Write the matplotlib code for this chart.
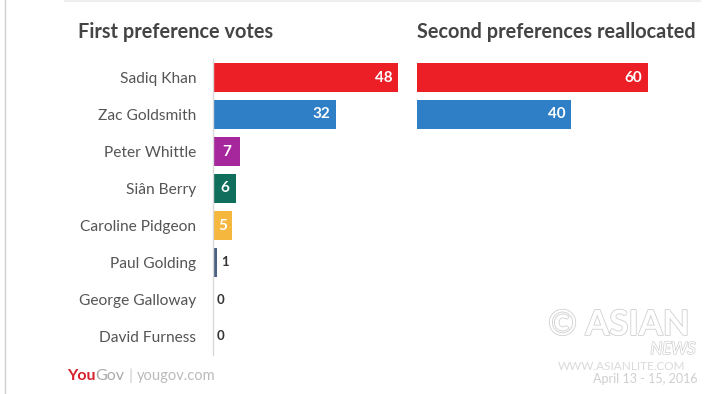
import matplotlib.pyplot as plt
import matplotlib.patheffects as pe
from matplotlib.lines import Line2D

plt.rcParams['font.family'] = ['Lato', 'DejaVu Sans']

# Data
candidates = ['Sadiq Khan', 'Zac Goldsmith', 'Peter Whittle', 'Siân Berry',
              'Caroline Pidgeon', 'Paul Golding', 'George Galloway', 'David Furness']
first_votes = [48, 32, 7, 6, 5, 1, 0, 0]
bar_colors = ['#ec1f27', '#2e7fc5', '#a6279b', '#0f6e5c', '#f5b73d', '#4a6184', '#4a6184', '#4a6184']
second_names = ['Sadiq Khan', 'Zac Goldsmith']
second_votes = [60, 40]

W, H = 723, 394
fig = plt.figure(figsize=(W / 100, H / 100), dpi=100)
fig.patch.set_facecolor('white')

px_per_unit = 3.854
row_top, row_bottom = 59, 355


def add_axes(x0, xmax):
    return fig.add_axes([x0 / W, 1 - row_bottom / H, xmax * px_per_unit / W,
                         (row_bottom - row_top) / H])


# First preferences panel
ax1 = add_axes(213, 50)
y = range(len(candidates))
ax1.barh(y, first_votes, height=0.78, color=bar_colors)
ax1.set_xlim(0, 50)
ax1.set_ylim(len(candidates) - 0.5, -0.5)
for s in ['top', 'right', 'bottom']:
    ax1.spines[s].set_visible(False)
ax1.spines['left'].set_color('#d9d9d9')
ax1.spines['left'].set_linewidth(1)
ax1.set_xticks([])
ax1.set_yticks(list(y))
ax1.set_yticklabels(candidates, fontsize=11.2, color='#555555')
ax1.tick_params(axis='y', length=0, pad=12)
for i, v in enumerate(first_votes):
    if v >= 10:
        ax1.text(v - 1.5, i, str(v), ha='right', va='center', color='white',
                 fontsize=11, fontweight='bold')
    elif v >= 3:
        ax1.text(v / 2, i, str(v), ha='center', va='center', color='white',
                 fontsize=11, fontweight='bold')
    else:
        ax1.text(v + 1.0, i, str(v), ha='left', va='center', color='#333333',
                 fontsize=9.5, fontweight='bold')

# Second preferences panel
ax2 = add_axes(417, 70)
ax2.barh(range(len(second_votes)), second_votes, height=0.78, color=bar_colors[:2])
ax2.set_xlim(0, 70)
ax2.set_ylim(len(candidates) - 0.5, -0.5)
ax2.axis('off')
for i, v in enumerate(second_votes):
    ax2.text(v - 1.5, i, str(v), ha='right', va='center', color='white',
             fontsize=11, fontweight='bold')

# Titles
fig.text(78 / W, 1 - 32 / H, 'First preference votes', fontsize=14.3, fontweight='bold',
         color='#444444', ha='left', va='center')
fig.text(417 / W, 1 - 32 / H, 'Second preferences reallocated', fontsize=14.3,
         fontweight='bold', color='#444444', ha='left', va='center')

# Frame lines
fig.add_artist(Line2D([4.5 / W, 4.5 / W], [0, 1], color='#cfcfcf', lw=1))
fig.add_artist(Line2D([65 / W, 700 / W], [1 - 1 / H, 1 - 1 / H], color='#eeeeee', lw=1.5))

# Footer
fy = 1 - 376 / H
fig.canvas.draw()
r = fig.canvas.get_renderer()
t1 = fig.text(67 / W, fy, 'You', fontsize=11.5, fontweight='bold', color='#d7202a',
              ha='left', va='center')
x = t1.get_window_extent(r).x1
t2 = fig.text(x / W, fy, 'Gov', fontsize=11.5, color='#aaaaaa', ha='left', va='center')
x = t2.get_window_extent(r).x1 + 4
t3 = fig.text(x / W, fy, '|', fontsize=11.5, color='#cccccc', ha='left', va='center')
x = t3.get_window_extent(r).x1 + 4
fig.text(x / W, fy, 'yougov.com', fontsize=10.5, color='#bbbbbb', ha='left', va='center')
fig.text(698 / W, 1 - 379 / H, 'April 13 - 15, 2016', fontsize=9, color='#cfcfcf',
         ha='right', va='center')

# Watermark
fig.text(619 / W, 1 - 325 / H, '© ASIAN', fontsize=25, fontweight='bold', color='white',
         ha='center', va='center',
         path_effects=[pe.withStroke(linewidth=1.2, foreground='#d0d0d0')])
fig.text(673 / W, 1 - 349 / H, 'NEWS', fontsize=12, fontstyle='italic', color='white',
         ha='center', va='center',
         path_effects=[pe.withStroke(linewidth=1.0, foreground='#cfcfcf')])
fig.text(622 / W, 1 - 367 / H, 'WWW.ASIANLITE.COM', fontsize=8.5, color='#dadada',
         ha='center', va='center')

fig.savefig('out.png', dpi=100)
